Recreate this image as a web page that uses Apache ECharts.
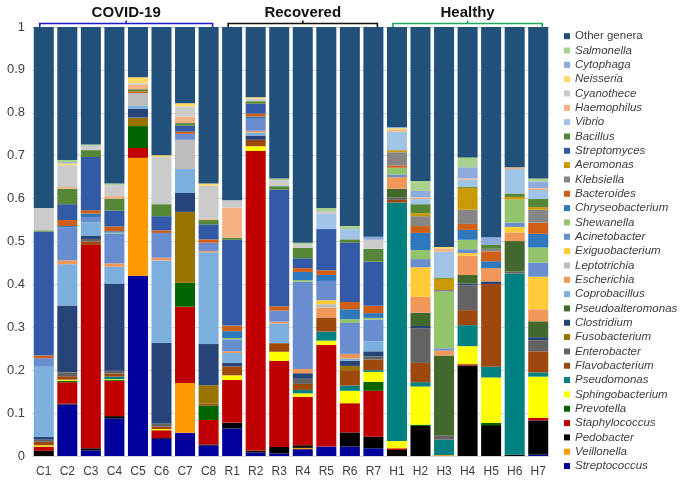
<!DOCTYPE html>
<html>
<head>
<meta charset="utf-8">
<script src="https://cdn.jsdelivr.net/npm/echarts@6/dist/echarts.min.js"></script>
<style>html,body{margin:0;padding:0;background:#fff;}#c{width:685px;height:483px;}</style>
</head>
<body>
<div id="c"></div>
<script>
// Genera, bottom of stack first (legend shows them in reverse order)
const genera = ['Streptococcus','Veillonella','Pedobacter','Staphylococcus','Prevotella','Sphingobacterium','Pseudomonas','Flavobacterium','Enterobacter','Fusobacterium','Clostridium','Pseudoalteromonas','Coprobacillus','Escherichia','Leptotrichia','Exiguobacterium','Acinetobacter','Shewanella','Chryseobacterium','Bacteroides','Klebsiella','Aeromonas','Streptomyces','Bacillus','Vibrio','Haemophilus','Cyanothece','Neisseria','Cytophaga','Salmonella','Other genera'];
const colors = ['#00009A','#FF9B00','#000000','#C00000','#006400','#FFFF00','#008080','#9E480E','#636363','#997300','#264478','#43682B','#7CAFDD','#F1975A','#BDBDBD','#FFCB36','#698ED0','#93C46B','#2E78BE','#CF5F17','#868686','#C99A06','#335AA6','#568637','#A0C4E8','#F4B183','#CBCBCB','#FFD966','#8FAADC','#A9D18E','#21507A'];

const samples = ['C1','C2','C3','C4','C5','C6','C7','C8','R1','R2','R3','R4','R5','R6','R7','H1','H2','H3','H4','H5','H6','H7'];

// Relative abundance per sample, in the genera order above
const C1 = [0,0,0.012,0.01,0,0.003,0,0.008,0.005,0,0.007,0,0.163,0,0,0,0.02,0,0,0.006,0,0,0.289,0.003,0,0,0.052,0,0,0,0.422];
const C2 = [0.12,0,0.002,0.05,0.003,0.003,0,0.008,0.009,0,0.156,0,0.096,0.009,0,0,0.077,0,0.003,0.014,0,0,0.037,0.036,0,0.004,0.051,0.004,0.003,0.005,0.31];
const C3 = [0.013,0,0.005,0.474,0,0,0,0.008,0.006,0,0.008,0,0.031,0,0,0,0.012,0,0.008,0.008,0,0,0.124,0.016,0,0,0.01,0,0,0.003,0.274];
const C4 = [0.087,0,0.006,0.082,0.002,0.002,0.006,0.007,0.007,0,0.203,0,0.039,0.008,0,0,0.07,0.002,0.003,0.011,0,0,0.037,0.028,0,0.006,0.026,0,0,0.003,0.365];
const C5 = [0.42,0.275,0,0.023,0.051,0,0,0,0,0.02,0.02,0,0.007,0,0.03,0,0,0,0,0.004,0,0,0,0.005,0,0.01,0.004,0.014,0,0,0.117];
const C6 = [0.04,0,0.002,0.018,0,0.003,0,0.006,0.007,0,0.188,0,0.192,0.006,0,0,0.058,0,0,0.006,0,0,0.033,0.028,0,0,0.11,0.004,0,0,0.299];
const C7 = [0.054,0.116,0,0.178,0.056,0,0,0,0,0.165,0.044,0,0.056,0,0.068,0,0.014,0,0,0.005,0,0,0.014,0.006,0,0.015,0.024,0.007,0,0,0.178];
const C8 = [0.024,0,0.003,0.057,0.034,0,0,0.004,0,0.043,0.096,0,0.214,0.003,0,0,0.019,0,0,0.008,0,0,0.035,0.01,0,0.003,0.077,0.005,0,0,0.365];
const R1 = [0.064,0,0.014,0.099,0,0.011,0,0.021,0,0,0.008,0,0.023,0.004,0,0,0.028,0.003,0.016,0.013,0,0,0.2,0.005,0,0.07,0.017,0,0,0,0.404];
const R2 = [0.008,0,0.004,0.699,0,0.011,0,0.015,0,0,0.01,0,0.007,0.004,0,0,0.028,0,0.005,0.007,0,0,0.023,0.006,0,0,0.006,0.003,0,0,0.164];
const R3 = [0.006,0,0.015,0.201,0,0.021,0,0.02,0,0,0,0,0.046,0.004,0,0,0.026,0,0,0.01,0,0,0.272,0.008,0,0,0.014,0,0,0.004,0.353];
const R4 = [0.016,0.003,0.006,0.113,0,0.008,0.008,0.014,0.012,0,0.013,0,0,0.01,0,0,0.203,0.004,0.019,0.009,0,0,0.023,0.024,0,0,0.008,0,0,0.004,0.503];
const R5 = [0.022,0,0,0.237,0,0.01,0.021,0.033,0,0,0,0,0,0.023,0.008,0.009,0.045,0,0.014,0.011,0,0,0.096,0,0.035,0,0.007,0,0,0.007,0.422];
const R6 = [0.022,0,0.033,0.068,0,0.029,0.012,0.036,0,0.01,0.012,0,0.005,0.011,0,0,0.072,0.009,0.023,0.017,0,0,0.138,0.008,0.024,0,0,0,0,0.007,0.464];
const R7 = [0.018,0,0.027,0.107,0.021,0.023,0.004,0.025,0.007,0,0.012,0,0.023,0,0,0,0.051,0.004,0.011,0.017,0,0,0.103,0.03,0,0,0.021,0,0.007,0,0.489];
const H1 = [0,0,0.014,0.004,0,0.017,0.556,0.006,0.005,0,0,0.021,0,0.027,0,0,0.006,0.016,0,0.005,0.031,0.005,0,0,0.043,0.004,0,0.004,0.003,0,0.233];
const H2 = [0,0,0.07,0,0.003,0.089,0.01,0.045,0.081,0,0.005,0.031,0,0.037,0,0.069,0.019,0.021,0.04,0.016,0.023,0.007,0,0.021,0.012,0.004,0,0,0.015,0.023,0.359];
const H3 = [0,0.002,0,0,0,0,0.036,0,0.01,0,0,0.186,0,0.012,0,0,0.005,0.132,0,0,0.004,0.026,0,0.003,0.06,0.008,0,0.003,0,0,0.513];
const H4 = [0,0,0.211,0.003,0,0.042,0.049,0.035,0.058,0,0.004,0.02,0,0.045,0,0.006,0.009,0.022,0.023,0.014,0.033,0.051,0,0.003,0.016,0.003,0,0,0.026,0.023,0.304];
const H5 = [0,0,0.072,0,0.005,0.106,0.025,0.193,0,0,0.006,0,0,0.031,0,0,0,0,0.016,0.023,0.006,0,0,0.009,0,0,0,0,0.018,0,0.49];
const H6 = [0,0,0.003,0,0,0,0.422,0,0.005,0,0,0.071,0,0.02,0,0.013,0.01,0.054,0,0,0,0.006,0,0.008,0.057,0.004,0,0,0,0,0.327];
const H7 = [0.003,0,0.08,0.006,0,0.096,0.01,0.049,0.026,0,0.007,0.037,0,0.028,0,0.076,0.033,0.035,0.032,0.026,0.03,0.006,0,0.019,0.021,0.004,0,0,0.016,0.007,0.353];

const yTicks = [0,0.1,0.2,0.3,0.4,0.5,0.6,0.7,0.8,0.9,1];

const groups = [
  {label:'COVID-19', from:'C1', to:'C8', color:'#1A1AC8'},
  {label:'Recovered', from:'R1', to:'R7', color:'#111111'},
  {label:'Healthy', from:'H1', to:'H7', color:'#1FA85C'}
];

const table = [C1,C2,C3,C4,C5,C6,C7,C8,R1,R2,R3,R4,R5,R6,R7,H1,H2,H3,H4,H5,H6,H7];
const FONT = 'Liberation Sans, Arial, sans-serif';

const series = genera.map((g, gi) => ({
  name: g,
  type: 'bar',
  stack: 'total',
  barCategoryGap: '15%',
  itemStyle: {color: colors[gi]},
  emphasis: {disabled: true},
  data: table.map(row => row[gi])
}));

const chart = echarts.init(document.getElementById('c'), null, {renderer: 'canvas'});
chart.setOption({
  animation: false,
  textStyle: {fontFamily: FONT},
  grid: {left: 32, right: 135, top: 27, bottom: 27},
  xAxis: {
    type: 'category',
    data: samples,
    axisLine: {show: true, lineStyle: {color: '#d9d9d9'}},
    axisTick: {show: false},
    axisLabel: {color: '#404040', fontSize: 12, margin: 10, fontFamily: FONT}
  },
  yAxis: {
    type: 'value',
    min: yTicks[0], max: yTicks[yTicks.length - 1], interval: 0.1,
    axisLine: {show: false},
    axisTick: {show: false},
    splitLine: {show: true, lineStyle: {color: '#d9d9d9'}},
    axisLabel: {color: '#404040', fontSize: 13, margin: 7, fontFamily: FONT,
      formatter: v => String(Math.round(v * 10) / 10)}
  },
  legend: {
    type: 'plain',
    orient: 'vertical',
    left: 564, top: 29,
    padding: 0,
    itemWidth: 6, itemHeight: 6,
    itemGap: 0,
    icon: 'rect',
    data: genera.slice().reverse(),
    selectedMode: false,
    formatter: n => n === 'Other genera' ? '{n|' + n + '}' : '{i|' + n + '}',
    textStyle: {
      color: '#404040', fontSize: 11.5, lineHeight: 14.33, fontFamily: FONT,
      rich: {
        n: {fontSize: 11.5, lineHeight: 14.33, color: '#404040', fontFamily: FONT},
        i: {fontSize: 11.5, lineHeight: 14.33, color: '#404040', fontStyle: 'italic', fontFamily: FONT}
      }
    }
  },
  series: series
});

// group brackets positioned from the category axis
const xOf = n => chart.convertToPixel({xAxisIndex: 0}, n);
const band = xOf(samples[1]) - xOf(samples[0]);
const half = band * 0.85 / 2;
const graphics = [];
groups.forEach(g => {
  const l = xOf(g.from) - half + 6;
  const r = xOf(g.to) + half - 6;
  const m = (l + r) / 2;
  graphics.push({type: 'polyline', shape: {points: [[l, 28], [l, 23.5], [r, 23.5], [r, 28]]},
    style: {stroke: g.color, lineWidth: 1.6, fill: null}, silent: true});
  graphics.push({type: 'line', shape: {x1: m, y1: 23.5, x2: m, y2: 20.5},
    style: {stroke: g.color, lineWidth: 1.6}, silent: true});
  graphics.push({type: 'text', x: m, y: 12.5, silent: true,
    style: {text: g.label, fill: '#111', font: 'bold 15px ' + FONT, align: 'center', verticalAlign: 'middle'}});
});
chart.setOption({graphic: graphics});
</script>
</body>
</html>
